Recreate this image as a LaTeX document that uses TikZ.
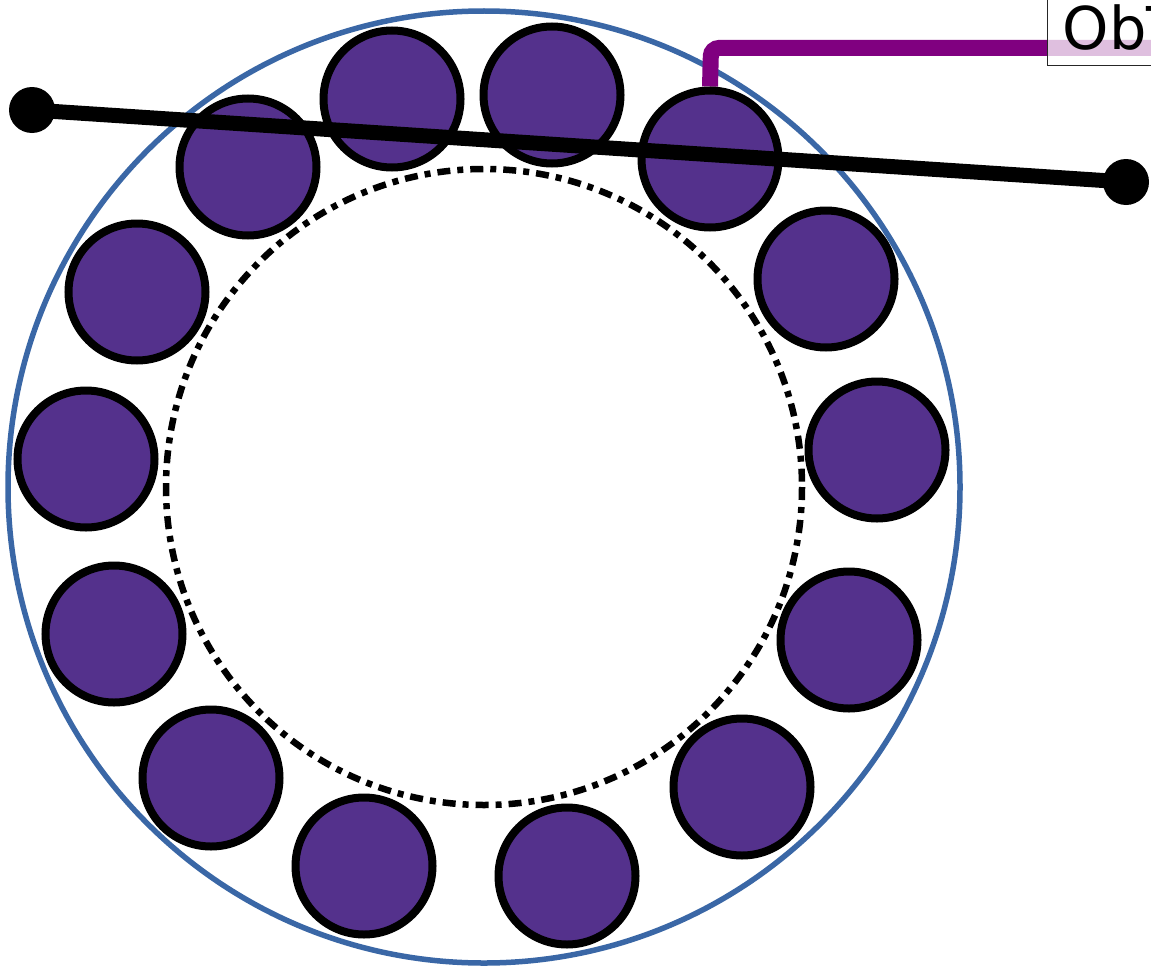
\documentclass[tikz,border=0pt]{standalone}
\usepackage{fontspec}
\setmainfont{DejaVu Sans}
\definecolor{ringblue}{HTML}{3A67A6}
\definecolor{ballfill}{HTML}{54318C}
\definecolor{linkpurple}{HTML}{800080}
\pgfdeclarelayer{background}
\pgfsetlayers{background,main}
\tikzset{
  ball/.style={circle, draw=black, line width=8pt, fill=ballfill, minimum size=137pt, inner sep=0pt},
  enddot/.style={circle, fill=black, minimum size=46pt, inner sep=0pt},
  lbl/.style={draw=black!85, line width=1.2pt, fill=white, fill opacity=0.75, text opacity=1, font=\fontsize{59}{66}\selectfont, inner sep=15pt, anchor=south west},
}
\begin{document}
\begin{tikzpicture}[x=1pt,y=-1pt]
\useasboundingbox (0,0) rectangle (1151,966);
\clip (0,0) rectangle (1151,966);
% balls
\foreach \n/\x/\y in {1/392/99, 2/552/95, 3/710/159, 4/826/279, 5/877/450, 6/849/640, 7/742/787, 8/567/876, 9/364/866, 10/211/778, 11/114/634, 12/86/459, 13/137/292, 14/248/167}
  \node[ball] (c\n) at (\x,\y) {};
% label
\node[lbl] (label) at (1047,66) {ObT};
\coordinate (bend) at (711,48);
\begin{pgfonlayer}{background}
  \draw[ringblue, line width=5.5pt] (484,487) circle[radius=476];
  \draw[black, line width=6.5pt, dash pattern=on 13pt off 7pt on 6pt off 7pt] (484,487) circle[radius=318];
  \draw[linkpurple, line width=16pt, rounded corners=8pt] (c3.north) -- (bend) -- (bend -| label.east);
\end{pgfonlayer}
% black line
\node[enddot] (dl) at (32,110) {};
\node[enddot] (dr) at (1126,182) {};
\draw[black, line width=15pt] (dl.center) -- (dr.center);
\end{tikzpicture}
\end{document}
